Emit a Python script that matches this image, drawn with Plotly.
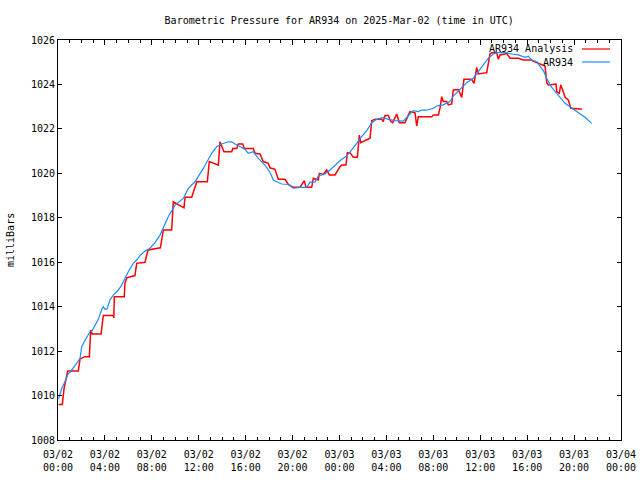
import pandas as pd
import plotly.graph_objects as go

START = "2025-03-02 00:00"

# AR934 observations: hours since START, pressure (mb)
obs_hours = [0.05, 0.32, 0.60, 0.88, 1.02, 1.30, 1.59, 1.88, 2.02, 2.24, 2.58, 2.73, 2.90, 3.15, 3.44,
             3.73, 3.86, 4.01, 4.18, 4.43, 4.71, 5.14, 5.43, 5.71, 5.99, 6.42, 6.71, 6.99, 7.42, 7.84,
             8.27, 8.70, 9.40, 9.98, 10.68, 11.11, 11.68, 12.39, 13.10, 13.53, 13.96, 14.52, 14.81,
             15.09, 15.52, 15.94, 16.22, 16.65, 17.08, 17.65, 18.07, 18.36, 18.65, 19.07, 19.64,
             20.06, 20.63, 21.20, 21.49, 21.91, 22.19, 22.76, 23.19, 23.76, 24.19, 24.61, 25.04,
             25.47, 25.89, 26.32, 26.75, 27.17, 27.73, 28.16, 28.73, 29.44, 30.01, 30.29, 30.72,
             31.01, 31.44, 32.00, 32.29, 32.85, 33.42, 33.70, 34.27, 34.85, 35.41, 35.84, 36.26,
             36.69, 37.11, 37.54, 38.26, 38.68, 39.25, 39.82, 40.10, 40.39, 40.81, 41.10, 41.38,
             41.67, 41.95, 42.23, 42.52, 42.80, 43.23, 43.65, 44.08, 44.51, 44.93, 45.50]
obs_mb = [1009.85, 1010.33, 1010.63, 1011.00, 1011.05, 1011.23, 1011.45, 1011.68, 1012.20, 1012.42,
          1012.72, 1012.87, 1012.90, 1013.18, 1013.43, 1013.88, 1014.00, 1013.88, 1013.90, 1014.30,
          1014.52, 1014.75, 1014.97, 1015.27, 1015.57, 1015.95, 1016.10, 1016.30, 1016.50, 1016.63,
          1016.88, 1017.22, 1018.05, 1018.57, 1018.87, 1019.32, 1019.62, 1020.22, 1020.90, 1021.20,
          1021.32, 1021.42, 1021.42, 1021.32, 1021.20, 1021.08, 1020.90, 1020.97, 1020.67, 1020.37,
          1020.05, 1019.70, 1019.62, 1019.52, 1019.50, 1019.33, 1019.37, 1019.37, 1019.60, 1019.60,
          1019.88, 1019.97, 1020.15, 1020.45, 1020.63, 1020.78, 1021.05, 1021.35, 1021.65, 1021.92,
          1022.28, 1022.43, 1022.52, 1022.43, 1022.37, 1022.35, 1022.67, 1022.82, 1022.78, 1022.85,
          1022.84, 1022.93, 1023.03, 1023.08, 1023.23, 1023.48, 1023.78, 1024.08, 1024.28, 1024.58,
          1024.88, 1025.18, 1025.37, 1025.43, 1025.43, 1025.37, 1025.33, 1025.22, 1025.27, 1025.10,
          1025.02, 1024.83, 1024.62, 1024.28, 1023.98, 1023.78, 1023.60, 1023.38, 1023.15, 1023.00,
          1022.85, 1022.70, 1022.52, 1022.25]

# AR934 Analysis: hours since START, pressure (mb)
ana_hours = [0.05, 0.37, 0.51, 0.83, 1.73, 1.88, 2.30, 2.67, 2.79, 2.92, 3.67, 3.86, 4.71, 4.76, 4.80,
             5.65, 5.71, 5.86, 6.56, 6.71, 7.42, 7.67, 8.73, 8.90, 8.98, 9.69, 9.83, 10.55, 10.74,
             10.83, 11.40, 11.83, 12.73, 12.90, 13.67, 13.81, 14.15, 14.81, 14.90, 15.24, 15.37,
             15.75, 15.88, 16.65, 16.80, 17.22, 17.50, 17.93, 18.07, 18.50, 18.78, 19.35, 19.64,
             20.06, 20.63, 21.00, 21.14, 21.63, 21.77, 22.19, 22.28, 22.62, 22.91, 23.13, 23.62,
             24.04, 24.19, 24.55, 24.67, 24.90, 25.18, 25.52, 25.69, 25.81, 26.32, 26.60, 26.75,
             27.03, 27.60, 27.73, 27.88, 28.16, 28.37, 28.54, 28.88, 29.10, 29.58, 29.73, 30.01,
             30.44, 30.58, 30.72, 31.86, 32.00, 32.43, 32.57, 32.71, 32.85, 33.14, 33.28, 33.57,
             33.70, 34.13, 34.42, 34.61, 35.27, 35.47, 35.70, 35.83, 36.55, 36.83, 36.98, 37.40,
             37.54, 37.68, 38.11, 38.25, 38.54, 39.25, 39.67, 40.39, 40.52, 41.38, 41.52, 41.67,
             41.80, 42.46, 42.52, 42.74, 42.86, 43.03, 43.23, 43.51, 43.72, 44.66]
ana_mb = [1009.60, 1009.60, 1010.30, 1011.10, 1011.10, 1011.65, 1011.75, 1011.75, 1012.95, 1012.77,
          1012.77, 1013.60, 1013.60, 1013.50, 1014.45, 1014.45, 1015.05, 1015.30, 1015.40, 1015.95,
          1016.00, 1016.55, 1016.65, 1017.20, 1017.45, 1017.45, 1018.72, 1018.50, 1018.45, 1018.92,
          1018.92, 1019.62, 1019.62, 1020.53, 1020.37, 1021.42, 1020.97, 1020.97, 1021.12, 1021.12,
          1021.32, 1021.32, 1021.12, 1021.12, 1020.90, 1020.87, 1020.53, 1020.45, 1020.25, 1020.18,
          1019.73, 1019.73, 1019.50, 1019.37, 1019.37, 1019.67, 1019.37, 1019.37, 1019.78, 1019.70,
          1020.00, 1019.95, 1020.15, 1019.93, 1019.93, 1020.30, 1020.37, 1020.37, 1020.93, 1020.93,
          1020.72, 1020.72, 1021.72, 1021.38, 1021.50, 1021.58, 1022.37, 1022.43, 1022.43, 1022.33,
          1022.60, 1022.60, 1022.33, 1022.28, 1022.67, 1022.28, 1022.28, 1022.43, 1022.78, 1022.72,
          1022.13, 1022.55, 1022.55, 1022.63, 1022.63, 1022.93, 1023.45, 1023.23, 1023.23, 1023.08,
          1023.12, 1023.75, 1023.77, 1023.42, 1024.23, 1024.23, 1024.05, 1024.77, 1024.47, 1024.53,
          1025.37, 1025.43, 1025.43, 1025.13, 1025.33, 1025.37, 1025.40, 1025.18, 1025.18, 1025.10,
          1025.10, 1025.05, 1024.83, 1024.83, 1024.08, 1023.98, 1024.02, 1023.68, 1023.60, 1023.98,
          1023.75, 1023.42, 1023.30, 1022.93, 1022.88]

tick_hours = [0, 4, 8, 12, 16, 20, 24, 28, 32, 36, 40, 44, 48]
tick_labels = ["03/02<br>00:00", "03/02<br>04:00", "03/02<br>08:00", "03/02<br>12:00",
               "03/02<br>16:00", "03/02<br>20:00", "03/03<br>00:00", "03/03<br>04:00",
               "03/03<br>08:00", "03/03<br>12:00", "03/03<br>16:00", "03/03<br>20:00",
               "03/04<br>00:00"]
y_ticks = [1008, 1010, 1012, 1014, 1016, 1018, 1020, 1022, 1024, 1026]

t0 = pd.Timestamp(START)
def to_time(hours):
    return [t0 + pd.to_timedelta(h, unit="h") for h in hours]

FONT = "DejaVu Sans Mono"
RED = "#ff0000"
BLUE = "#1a8cff"

fig = go.Figure()
fig.add_trace(go.Scatter(x=to_time(ana_hours), y=ana_mb, mode="lines",
                         line=dict(color=RED, width=1.5), name="AR934 Analysis", showlegend=False))
fig.add_trace(go.Scatter(x=to_time(obs_hours), y=obs_mb, mode="lines",
                         line=dict(color=BLUE, width=1.2), name="AR934", showlegend=False))

fig.update_layout(
    width=640, height=480,
    margin=dict(l=58, r=19, t=40, b=40),
    paper_bgcolor="white", plot_bgcolor="white",
    font=dict(family=FONT, size=10, color="black"),
    title=dict(text="Barometric Pressure for AR934 on 2025-Mar-02 (time in UTC)",
               x=0.53, xanchor="center", y=1 - 20 / 480, yanchor="middle",
               font=dict(family=FONT, size=10, color="black")),
)
fig.update_xaxes(
    type="date", automargin=False,
    range=[t0, t0 + pd.Timedelta(hours=48)],
    tickmode="array", tickvals=to_time(tick_hours), ticktext=tick_labels,
    ticks="inside", ticklen=5, tickcolor="black", tickwidth=1,
    showline=True, linecolor="black", linewidth=1, mirror="allticks",
    showgrid=False, zeroline=False, ticklabelstandoff=5,
    minor=dict(ticks="inside", ticklen=3, tickcolor="black", dtick=3600000,
               tick0=t0, showgrid=False),
    tickfont=dict(family=FONT, size=10, color="black"),
)
fig.update_yaxes(
    automargin=False,
    range=[1008, 1026], tickmode="array", tickvals=y_ticks,
    ticks="inside", ticklen=4, tickcolor="black", tickwidth=1,
    showline=True, linecolor="black", linewidth=1, mirror="allticks",
    showgrid=False, zeroline=False,
    tickfont=dict(family=FONT, size=10, color="black"),
)

# y-axis title
fig.add_annotation(text="milliBars", xref="paper", yref="paper",
                   x=(10 - 58) / 563, y=0.5, textangle=-90, showarrow=False,
                   xanchor="center", yanchor="middle",
                   font=dict(family=FONT, size=10, color="black"))

# legend (text right-aligned, line sample to the right)
legend_items = [("AR934 Analysis", RED, 49), ("AR934", BLUE, 62)]
for label, color, ypx in legend_items:
    yp = (440 - ypx) / 400
    fig.add_annotation(text=label, xref="paper", yref="paper", x=(575 - 58) / 563, y=yp,
                       xanchor="right", yanchor="middle", showarrow=False,
                       font=dict(family=FONT, size=10, color="black"))
    fig.add_shape(type="line", xref="paper", yref="paper",
                  x0=(582 - 58) / 563, x1=(610 - 58) / 563, y0=yp, y1=yp,
                  line=dict(color=color, width=1.2))

fig.write_html("out.html", config={"displayModeBar": False},
               post_script="document.body.style.margin='0';")
